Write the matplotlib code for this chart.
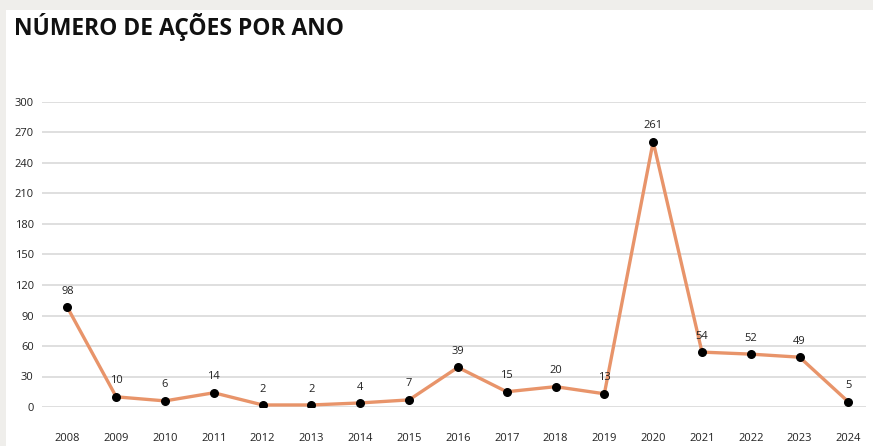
import matplotlib.pyplot as plt
from matplotlib.patches import Rectangle

anos = ["2008", "2009", "2010", "2011", "2012", "2013", "2014", "2015", "2016",
        "2017", "2018", "2019", "2020", "2021", "2022", "2023", "2024"]
acoes = [98, 10, 6, 14, 2, 2, 4, 7, 39, 15, 20, 13, 261, 54, 52, 49, 5]
y_ticks = [0, 30, 60, 90, 120, 150, 180, 210, 240, 270, 300]

plt.rcParams['font.family'] = ['Open Sans', 'DejaVu Sans']

W, H = 873, 446
fig = plt.figure(figsize=(W / 100, H / 100), dpi=100, facecolor="#efeeeb")
# white panel behind the chart
fig.patches.append(Rectangle((6 / W, 0), 1 - 6 / W, 1 - 10 / H, transform=fig.transFigure,
                             facecolor="white", edgecolor="none", zorder=-10))

ax = fig.add_axes([42 / W, 39 / H, (866 - 42) / W, (407 - 102) / H])
ax.set_facecolor("none")
ax.set_zorder(1)

x = list(range(len(anos)))
ax.plot(x, acoes, color="#e8946a", linewidth=2.4, zorder=3)
ax.scatter(x, acoes, color="black", s=30, zorder=4)
for xi, v in zip(x, acoes):
    ax.annotate(str(v), (xi, v), xytext=(0, 7.5), textcoords="offset points",
                ha="center", va="bottom", fontsize=8, color="#222222", zorder=5)

ax.set_xlim(-0.52, 16.36)
ax.set_ylim(0, 300)
ax.set_yticks(y_ticks)
ax.set_xticks(x)
ax.set_xticklabels(anos)
ax.tick_params(axis="both", length=0, labelsize=8, labelcolor="#222222")
ax.tick_params(axis="x", pad=19)
ax.tick_params(axis="y", pad=6)
ax.grid(axis="y", color="#dcdcdc", linewidth=1.3)
ax.set_axisbelow(True)
for s in ax.spines.values():
    s.set_visible(False)

fig.text(14 / W, 1 - 27 / H, "NÚMERO DE AÇÕES POR ANO", fontsize=16.5, fontweight="bold",
         color="#111111", va="center", ha="left")

fig.savefig("out.png", dpi=100, facecolor=fig.get_facecolor())
